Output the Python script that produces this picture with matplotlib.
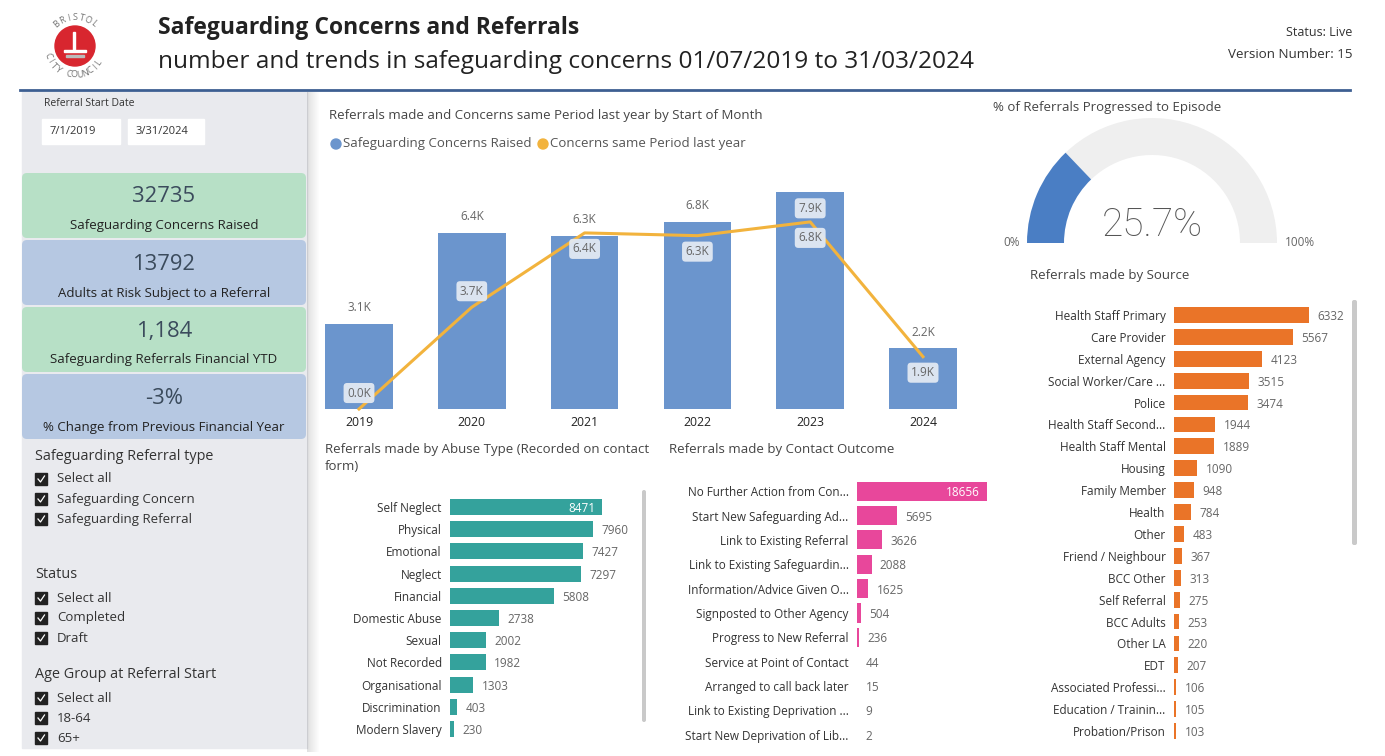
import numpy as np
import matplotlib.pyplot as plt
from matplotlib.patches import Rectangle, FancyBboxPatch, Circle, Wedge

plt.rcParams["font.family"] = ["Open Sans", "DejaVu Sans"]

W, H = 1385, 756

# main column chart (values in thousands)
years = ["2019", "2020", "2021", "2022", "2023", "2024"]
concerns_k = [3.1, 6.4, 6.3, 6.8, 7.9, 2.2]
last_year_k = [0.0, 3.7, 6.4, 6.3, 6.8, 1.9]

abuse_types = ["Self Neglect", "Physical", "Emotional", "Neglect", "Financial",
               "Domestic Abuse", "Sexual", "Not Recorded", "Organisational",
               "Discrimination", "Modern Slavery"]
abuse_counts = [8471, 7960, 7427, 7297, 5808, 2738, 2002, 1982, 1303, 403, 230]

outcomes = ["No Further Action from Con...", "Start New Safeguarding Ad...",
            "Link to Existing Referral", "Link to Existing Safeguardin...",
            "Information/Advice Given O...", "Signposted to Other Agency",
            "Progress to New Referral", "Service at Point of Contact",
            "Arranged to call back later", "Link to Existing Deprivation ...",
            "Start New Deprivation of Lib..."]
outcome_counts = [18656, 5695, 3626, 2088, 1625, 504, 236, 44, 15, 9, 2]

sources = ["Health Staff Primary", "Care Provider", "External Agency",
           "Social Worker/Care ...", "Police", "Health Staff Second...",
           "Health Staff Mental", "Housing", "Family Member", "Health", "Other",
           "Friend / Neighbour", "BCC Other", "Self Referral", "BCC Adults",
           "Other LA", "EDT", "Associated Professi...", "Education / Trainin...",
           "Probation/Prison"]
source_counts = [6332, 5567, 4123, 3515, 3474, 1944, 1889, 1090, 948, 784, 483,
                 367, 313, 275, 253, 220, 207, 106, 105, 103]

progressed_pct = 25.7

kpi_values = ["32735", "13792", "1,184", "-3%"]
kpi_labels = ["Safeguarding Concerns Raised", "Adults at Risk Subject to a Referral",
              "Safeguarding Referrals Financial YTD", "% Change from Previous Financial Year"]

slicer_titles = ["Safeguarding Referral type", "Status", "Age Group at Referral Start"]
slicer_items = [["Select all", "Safeguarding Concern", "Safeguarding Referral"],
                ["Select all", "Completed", "Draft"],
                ["Select all", "18-64", "65+"]]

BAR_BLUE = "#6b95cd"
LINE_ORANGE = "#f2b33d"
TEAL = "#34a29c"
PINK = "#e8479b"
ORANGE = "#ea7428"
GREEN_CARD = "#b7e0c6"
BLUE_CARD = "#b6c8e2"
TXT = "#333333"
GREY_TXT = "#666666"
HEAD_TXT = "#444444"

fig = plt.figure(figsize=(W / 100, H / 100), dpi=100)
canvas = fig.add_axes([0, 0, 1, 1])
canvas.set_xlim(0, W)
canvas.set_ylim(H, 0)
canvas.axis("off")


def px_axes(x0, y0, x1, y1):
    a = fig.add_axes([x0 / W, 1 - y1 / H, (x1 - x0) / W, (y1 - y0) / H])
    a.patch.set_alpha(0)
    for s in a.spines.values():
        s.set_visible(False)
    return a


# header
logo_c = (75, 46)
canvas.add_patch(Circle(logo_c, 20, color="#d8262f"))
canvas.add_patch(Rectangle((64, 50), 22, 2, color="white"))
canvas.add_patch(Rectangle((66, 55), 18, 2, color="#bbbbbb"))
canvas.add_patch(Rectangle((73, 32), 2, 18, color="white"))
for txt, a0, a1, flip in [("BRISTOL", 130, 50, False), ("CITY COUNCIL", 200, 325, True)]:
    for k, ch in enumerate(txt):
        a = np.radians(a0 + (a1 - a0) * k / (len(txt) - 1))
        x = logo_c[0] + 29 * np.cos(a)
        y = logo_c[1] - 29 * np.sin(a)
        rot = np.degrees(a) + (90 if flip else -90)
        canvas.text(x, y, ch, fontsize=6.5, color="#777777", rotation=rot,
                    ha="center", va="center")

canvas.text(158, 28, "Safeguarding Concerns and Referrals", fontsize=16.5,
            fontweight="bold", va="center", color="#222222")
canvas.text(158, 62, "number and trends in safeguarding concerns 01/07/2019 to 31/03/2024",
            fontsize=17.6, va="center", color="#222222")
canvas.text(1352, 33, "Status: Live", fontsize=9, ha="right", va="center", color=TXT)
canvas.text(1352, 54, "Version Number: 15", fontsize=9.6, ha="right", va="center", color=TXT)
canvas.plot([20, 1350], [90, 90], color="#3d5f92", lw=2)

# left filter panel
canvas.add_patch(Rectangle((22, 92), 285, 656, color="#e9eaee"))
for i in range(12):
    canvas.add_patch(Rectangle((307 + i, 92), 1, 660, color="black",
                               alpha=0.12 * (1 - i / 12), lw=0))
canvas.text(44, 103, "Referral Start Date", fontsize=7.5, va="center", color=TXT)
for x0, x1, txt in [(42, 120, "7/1/2019"), (128, 204, "3/31/2024")]:
    canvas.add_patch(Rectangle((x0, 119), x1 - x0, 25, color="white"))
    canvas.text(x0 + 8, 131.5, txt, fontsize=8, va="center", color=TXT)

card_tops = [173, 240, 307, 374]
for k, (val, lab) in enumerate(zip(kpi_values, kpi_labels)):
    top = card_tops[k]
    canvas.add_patch(FancyBboxPatch((22, top), 284, 65,
                                    boxstyle="round,pad=0,rounding_size=5",
                                    color=GREEN_CARD if k % 2 == 0 else BLUE_CARD, lw=0))
    canvas.text(164, top + 24, val, fontsize=15.8, ha="center", va="center", color="#3b4b5c")
    canvas.text(164, top + 53, lab, fontsize=9.5, ha="center", va="center", color="#222222")

slicer_tops = [456, 575, 675]
for top, title, items in zip(slicer_tops, slicer_titles, slicer_items):
    canvas.text(35, top, title, fontsize=10.4, va="center", color=TXT)
    for j, item in enumerate(items):
        y = top + 23 + 20 * j
        canvas.add_patch(Rectangle((35, y - 6), 12, 12, color="#222222"))
        canvas.plot([38, 40.5, 44.5], [y, y + 3, y - 3], color="white", lw=0.9)
        canvas.text(57, y, item, fontsize=9.5, va="center", color=TXT)

# main column + line chart
canvas.text(329, 115, "Referrals made and Concerns same Period last year by Start of Month",
            fontsize=9.5, va="center", color=HEAD_TXT)
canvas.add_patch(Circle((336, 144), 5, color=BAR_BLUE))
canvas.text(343, 144, "Safeguarding Concerns Raised", fontsize=9.5, va="center", color="#555555")
canvas.add_patch(Circle((543, 144), 5, color=LINE_ORANGE))
canvas.text(550, 144, "Concerns same Period last year", fontsize=9.5, va="center", color="#555555")

ax = px_axes(302.6, 160, 979.4, 409)
xs = np.arange(len(years))
ax.bar(xs, concerns_k, width=0.6, color=BAR_BLUE)
ax.plot(xs, last_year_k, color=LINE_ORANGE, lw=2.2, clip_on=False, zorder=3)
ax.set_xlim(-0.5, len(years) - 0.5)
ax.set_ylim(0, 9.05)
ax.set_yticks([])
ax.set_xticks(xs, years)
ax.tick_params(axis="x", length=0, pad=5, labelsize=8.8, labelcolor="#222222")
box_style = dict(boxstyle="round,pad=0.3,rounding_size=0.3", fc="#e2e9f3", ec="none", alpha=0.95)
for x, v, lv in zip(xs, concerns_k, last_year_k):
    if v == max(concerns_k):
        # no headroom above the tallest column, so its label sits inside
        ax.annotate(f"{v:.1f}K", (x, v), xytext=(0, -12), textcoords="offset points",
                    ha="center", va="center", fontsize=8.5, color=GREY_TXT, bbox=box_style, zorder=5)
    else:
        ax.annotate(f"{v:.1f}K", (x, v), xytext=(0, 11.5), textcoords="offset points",
                    ha="center", va="center", fontsize=8.5, color=GREY_TXT)
    dy = 11.5 if v - lv > 2 else -11.5
    ax.annotate(f"{lv:.1f}K", (x, lv), xytext=(0, dy), textcoords="offset points",
                ha="center", va="center", fontsize=8.5, color=GREY_TXT, bbox=box_style, zorder=5)

# gauge
canvas.text(993, 107, "% of Referrals Progressed to Episode", fontsize=9.5, va="center", color=HEAD_TXT)
gx = px_axes(1012, 113, 1292, 253)
gx.set_xlim(-1.4, 1.4)
gx.set_ylim(-0.1, 1.3)
gx.axis("off")
split = 180 - progressed_pct * 1.8
gx.add_patch(Wedge((0, 0), 1.25, 0, split, width=0.37, color="#efefef", lw=0))
gx.add_patch(Wedge((0, 0), 1.25, split, 180, width=0.37, color="#4a7ec4", lw=0))
gx.text(0, 0.18, f"{progressed_pct}%", fontsize=28, family=["Roboto", "DejaVu Sans"],
        fontweight="light", ha="center", va="center", color="#555555")
canvas.text(1012, 242, "0%", fontsize=8.5, ha="center", va="center", color=GREY_TXT)
canvas.text(1300, 242, "100%", fontsize=8.5, ha="center", va="center", color=GREY_TXT)


def hbars(box, labels, values, color, xmax_factor, bar_h, inside_max=False, size=8.5):
    a = px_axes(*box)
    ys = np.arange(len(labels))
    a.barh(ys, values, height=bar_h, color=color)
    a.set_ylim(len(labels) - 0.5, -0.5)
    a.set_xlim(0, max(values) * xmax_factor)
    a.set_xticks([])
    a.set_yticks(ys, labels)
    a.tick_params(axis="y", length=0, pad=6, labelsize=size, labelcolor=TXT)
    for y, v in zip(ys, values):
        if inside_max and v == max(values):
            a.annotate(str(v), (v, y), xytext=(-5, 0), textcoords="offset points",
                       ha="right", va="center_baseline", fontsize=size, color="white")
        else:
            a.annotate(str(v), (v, y), xytext=(6, 0), textcoords="offset points",
                       ha="left", va="center_baseline", fontsize=size, color=GREY_TXT)
    return a


canvas.text(325, 449, "Referrals made by Abuse Type (Recorded on contact", fontsize=9.5,
            va="center", color=HEAD_TXT)
canvas.text(325, 466, "form)", fontsize=9.5, va="center", color=HEAD_TXT)
hbars((450, 496, 640, 740), abuse_types, abuse_counts, TEAL, 1.25, 0.72, inside_max=True)
canvas.add_patch(FancyBboxPatch((642, 490), 4, 232, boxstyle="round,pad=0,rounding_size=2",
                                color="#c9c9c9", lw=0))

canvas.text(669, 449, "Referrals made by Contact Outcome", fontsize=9.5, va="center", color=HEAD_TXT)
hbars((857, 479, 1000, 747), outcomes, outcome_counts, PINK, 1.1, 0.78, inside_max=True)

canvas.text(1110, 276, "Referrals made by Source", fontsize=9.5, ha="center", va="center",
            color=HEAD_TXT)
hbars((1174, 304, 1340, 742), sources, source_counts, ORANGE, 1.23, 0.72)
canvas.add_patch(FancyBboxPatch((1352, 300), 5, 245, boxstyle="round,pad=0,rounding_size=2",
                                color="#c9c9c9", lw=0))

fig.savefig("out.png", dpi=100, facecolor="white")
